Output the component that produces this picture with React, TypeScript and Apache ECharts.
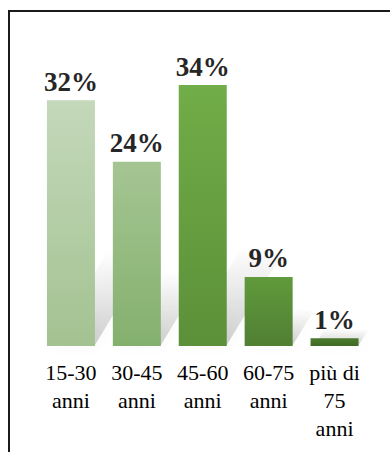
import React, { useEffect, useRef } from "react";
import * as echarts from "echarts";

const categories = ["15-30\nanni", "30-45\nanni", "45-60\nanni", "60-75\nanni", "più di\n75\nanni"];
const values = [32, 24, 34, 9, 1];
const topColors = ["#c4d8ba", "#a5c593", "#71ad48", "#609a3c", "#4b7b2e"];
const bottomColors = ["#a3c291", "#84b06e", "#5c9039", "#517f34", "#3f6a27"];

export default function App() {
  const ref = useRef<HTMLDivElement>(null);
  useEffect(() => {
    if (!ref.current) return;
    const chart = echarts.init(ref.current, null, { renderer: "svg" });
    const serif = "Liberation Serif";
    chart.setOption({
      animation: false,
      backgroundColor: "#ffffff",
      grid: { left: 38, right: 22.5, top: 85, bottom: 106 },
      xAxis: {
        type: "category",
        data: categories,
        axisLine: { show: false },
        axisTick: { show: false },
        axisLabel: {
          interval: 0,
          fontFamily: serif,
          fontSize: 22,
          lineHeight: 28,
          color: "#000000",
          margin: 12,
        },
      },
      yAxis: { type: "value", min: 0, max: 34, show: false, splitLine: { show: false } },
      graphic: [
        {
          type: "rect",
          shape: { x: 9, y: 11, width: 420, height: 500 },
          style: { fill: "none", stroke: "#1a1a1a", lineWidth: 2 },
          silent: true,
          z: 100,
        },
      ],
      series: [
        {
          type: "custom",
          z: 1,
          silent: true,
          data: values.map((v, i) => [i, v]),
          encode: { x: 0, y: 1 },
          renderItem: (params: any, api: any) => {
            const idx = api.value(0);
            const v = api.value(1);
            const base = api.coord([idx, 0]);
            const top = api.coord([idx, v]);
            const h = base[1] - top[1];
            const sh = h * 0.33 + 14;
            const skew = sh * 0.6;
            const x0 = base[0] - 20;
            const x1 = base[0] + 24;
            return {
              type: "polygon",
              shape: {
                points: [
                  [x0, base[1] - 1],
                  [x1, base[1] - 1],
                  [x1 + skew, base[1] - sh],
                  [x0 + skew, base[1] - sh],
                ],
              },
              style: {
                fill: new echarts.graphic.LinearGradient(0, 0, 0, 1, [
                  { offset: 0, color: "rgba(0,0,0,0)" },
                  { offset: 0.5, color: "rgba(0,0,0,0.08)" },
                  { offset: 1, color: "rgba(0,0,0,0.18)" },
                ]),
                shadowBlur: 14,
                shadowColor: "rgba(0,0,0,0.2)",
              },
            };
          },
        },
        {
          type: "bar",
          z: 2,
          barWidth: 48,
          data: values.map((v, i) => ({
            value: v,
            itemStyle: {
              color: new echarts.graphic.LinearGradient(0, 0, 0, 1, [
                { offset: 0, color: topColors[i] },
                { offset: 1, color: bottomColors[i] },
              ]),
            },
          })),
          label: {
            show: true,
            position: "top",
            distance: 5,
            formatter: "{c}%",
            fontFamily: serif,
            fontWeight: "bold",
            fontSize: 27,
            color: "#262626",
          },
        },
      ],
    });
    return () => chart.dispose();
  }, []);
  return (
    <div
      ref={ref}
      style={{ position: "absolute", left: 0, top: 0, width: 390, height: 452 }}
    />
  );
}
